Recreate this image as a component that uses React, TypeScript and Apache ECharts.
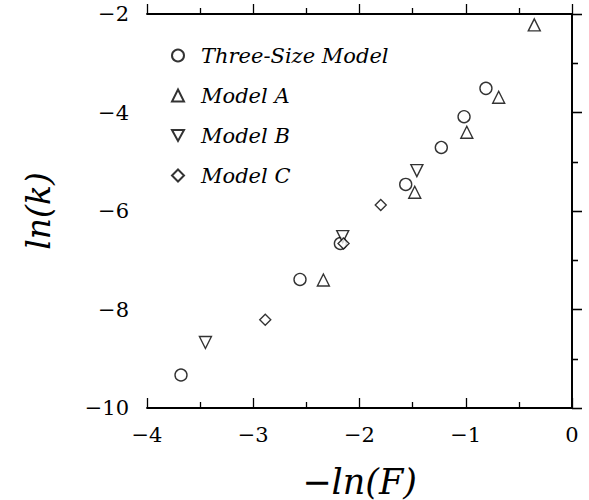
import React, { useEffect, useRef } from "react";
import * as echarts from "echarts";

const seriesNames = ["Three-Size Model", "Model A", "Model B", "Model C"];
const threeSize: [number, number][] = [
  [-3.68, -9.33], [-2.56, -7.39], [-2.18, -6.66], [-1.565, -5.46],
  [-1.23, -4.71], [-1.016, -4.085], [-0.81, -3.51],
];
const modelA: [number, number][] = [
  [-2.34, -7.4], [-1.48, -5.62], [-0.99, -4.4], [-0.69, -3.69], [-0.355, -2.22],
];
const modelB: [number, number][] = [
  [-3.45, -8.67], [-2.158, -6.52], [-1.46, -5.18],
];
const modelC: [number, number][] = [
  [-2.887, -8.21], [-2.15, -6.66], [-1.8, -5.88],
];
const xTicks = [-4, -3, -2, -1, 0];
const yTicks = [-10, -8, -6, -4, -2];

const FONT = "DejaVu Serif";

export default function App() {
  const ref = useRef<HTMLDivElement>(null);
  useEffect(() => {
    if (!ref.current) return;
    const chart = echarts.init(ref.current, undefined, { renderer: "svg" });
    const fmt = (v: number) => (v < 0 ? "\u2212" + Math.abs(v) : String(v));
    const axisCommon = (inside: boolean) => ({
      axisLine: { show: true, lineStyle: { color: "#000", width: 1.8 } },
      axisTick: { show: true, inside, length: 10, lineStyle: { color: "#000", width: 1.3 } },
      minorTick: { show: true, splitNumber: 2, length: 6, lineStyle: { color: "#000", width: 1.3 } },
      splitLine: { show: false },
      minorSplitLine: { show: false },
    });
    const sym = (symbol: string, size: number) => ({
      symbol,
      symbolSize: size,
      itemStyle: { color: "#fff", borderColor: "#000", borderWidth: 1.4 },
    });
    const datasets = [threeSize, modelA, modelB, modelC];
    const symbols = [
      sym("circle", 12),
      sym("triangle", 12),
      sym("path://M0,0 L10,0 L5,9 Z", 12),
      sym("diamond", 11),
    ];
    chart.setOption({
      animation: false,
      backgroundColor: "#fff",
      grid: {
        left: 147,
        top: 14,
        right: 17,
        bottom: 92,
        containLabel: false,
        outerBoundsMode: "none",
      },
      legend: {
        orient: "vertical",
        left: 166,
        top: 40,
        itemWidth: 12,
        itemHeight: 12,
        itemGap: 19,
        textStyle: {
          fontFamily: FONT,
          fontStyle: "italic",
          fontSize: 21,
          color: "#000",
          lineHeight: 21,
          padding: [0, 0, 0, 12],
        },
        data: seriesNames,
      },
      xAxis: [
        {
          type: "value",
          min: -4,
          max: 0,
          interval: 1,
          position: "bottom",
          ...axisCommon(true),
          axisLabel: {
            formatter: fmt,
            fontFamily: FONT,
            fontSize: 21,
            color: "#000",
            margin: 16,
          },
          name: "\u2212ln(F)",
          nameLocation: "middle",
          nameGap: 56,
          nameTextStyle: { fontFamily: FONT, fontStyle: "italic", fontSize: 35, color: "#000" },
        },
        {
          type: "value",
          min: -4,
          max: 0,
          interval: 1,
          position: "top",
          ...axisCommon(false),
          axisLabel: { show: false },
        },
      ],
      yAxis: [
        {
          type: "value",
          min: -10,
          max: -2,
          interval: 2,
          position: "left",
          ...axisCommon(true),
          axisLabel: {
            formatter: fmt,
            fontFamily: FONT,
            fontSize: 21,
            color: "#000",
            margin: 18,
          },
          name: "ln(k)",
          nameLocation: "middle",
          nameGap: 92,
          nameTextStyle: { fontFamily: FONT, fontStyle: "italic", fontSize: 33, color: "#000" },
        },
        {
          type: "value",
          min: -10,
          max: -2,
          interval: 2,
          position: "right",
          ...axisCommon(false),
          axisLabel: { show: false },
        },
      ],
      series: datasets.map((d, i) => ({
        name: seriesNames[i],
        type: "scatter",
        data: d,
        ...symbols[i],
      })),
    });
    return () => chart.dispose();
  }, []);
  return <div ref={ref} style={{ width: 589, height: 500, position: "absolute", left: 0, top: 0 }} />;
}
